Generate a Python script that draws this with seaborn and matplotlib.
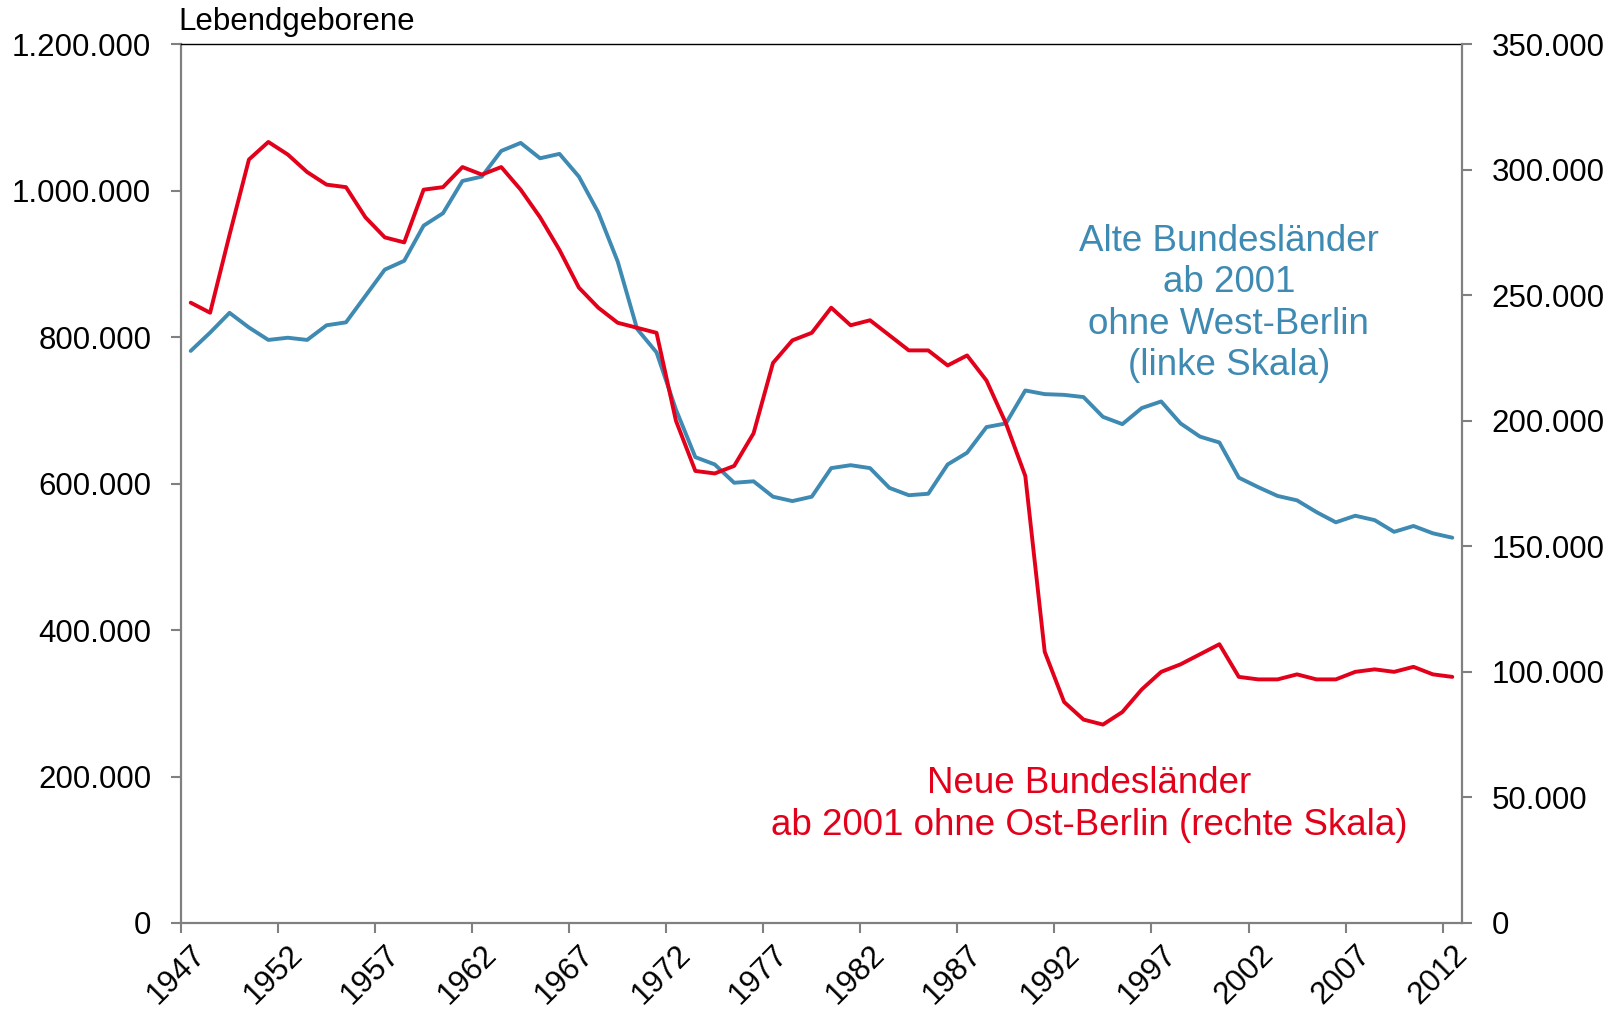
import numpy as np
import pandas as pd
import seaborn as sns
import matplotlib
matplotlib.use('Agg')
import matplotlib.pyplot as plt
from matplotlib.ticker import FuncFormatter

# Lebendgeborene 1947-2012
years = list(range(1947, 2013))

# Alte Bundeslaender (linke Skala)
alte = [781000, 806000, 833000, 813000, 796000,   # 1947-1951
        799000, 796000, 816000, 820000, 856000,   # 1952-1956
        892000, 904000, 952000, 969000, 1013000,  # 1957-1961
        1019000, 1054000, 1065000, 1044000, 1050000,  # 1962-1966
        1019000, 970000, 903000, 811000, 779000,  # 1967-1971
        701000, 636000, 626000, 601000, 603000,   # 1972-1976
        582000, 576000, 582000, 621000, 625000,   # 1977-1981
        621000, 594000, 584000, 586000, 626000,   # 1982-1986
        642000, 677000, 682000, 727000, 722000,   # 1987-1991
        721000, 718000, 691000, 681000, 703000,   # 1992-1996
        712000, 682000, 664000, 656000, 608000,   # 1997-2001
        595000, 583000, 577000, 561000, 547000,   # 2002-2006
        556000, 550000, 534000, 542000, 532000,   # 2007-2011
        526000]                                   # 2012

# Neue Bundeslaender (rechte Skala)
neue = [247000, 243000, 274000, 304000, 311000,   # 1947-1951
        306000, 299000, 294000, 293000, 281000,   # 1952-1956
        273000, 271000, 292000, 293000, 301000,   # 1957-1961
        298000, 301000, 292000, 281000, 268000,   # 1962-1966
        253000, 245000, 239000, 237000, 235000,   # 1967-1971
        200000, 180000, 179000, 182000, 195000,   # 1972-1976
        223000, 232000, 235000, 245000, 238000,   # 1977-1981
        240000, 234000, 228000, 228000, 222000,   # 1982-1986
        226000, 216000, 199000, 178000, 108000,   # 1987-1991
        88000, 81000, 79000, 84000, 93000,        # 1992-1996
        100000, 103000, 107000, 111000, 98000,    # 1997-2001
        97000, 97000, 99000, 97000, 97000,        # 2002-2006
        100000, 101000, 100000, 102000, 99000,    # 2007-2011
        98000]                                    # 2012

tick_years = [1947, 1952, 1957, 1962, 1967, 1972, 1977,
              1982, 1987, 1992, 1997, 2002, 2007, 2012]
left_ticks = [0, 200000, 400000, 600000, 800000, 1000000, 1200000]
right_ticks = [0, 50000, 100000, 150000, 200000, 250000, 300000, 350000]

blue = '#3E8AB2'
red = '#E3001B'
grey = '#808080'

sns.set_style('white')
plt.rcParams['font.family'] = ['Liberation Sans', 'DejaVu Sans']
plt.rcParams['text.color'] = 'black'

df = pd.DataFrame({'Jahr': years, 'alte': alte, 'neue': neue})

fig = plt.figure(figsize=(16.2, 10.13), dpi=100)
ax = fig.add_axes([181 / 1620, 1 - 923 / 1013, 1281 / 1620, 879 / 1013])
ax2 = ax.twinx()

sns.lineplot(data=df, x='Jahr', y='alte', ax=ax, color=blue, lw=2.8)
sns.lineplot(data=df, x='Jahr', y='neue', ax=ax2, color=red, lw=2.8)

# german number format 1.200.000
de_fmt = FuncFormatter(lambda v, p: f'{int(round(v)):,}'.replace(',', '.'))

ax.set_xlim(1946.5, 2012.5)
ax.set_ylim(0, 1200000)
ax2.set_ylim(0, 350000)
ax.set_yticks(left_ticks)
ax2.set_yticks(right_ticks)
ax.yaxis.set_major_formatter(de_fmt)
ax2.yaxis.set_major_formatter(de_fmt)
for a in (ax, ax2):
    a.set_xlabel('')
    a.set_ylabel('')
    a.grid(False)

# category labels at the points, tick marks between categories
ax.set_xticks(tick_years)
ax.set_xticks([y - 0.5 for y in tick_years], minor=True)
ax.set_xticklabels([str(y) for y in tick_years])
ax.tick_params(axis='x', which='major', length=0, pad=12, labelsize=22.5, labelcolor='black')
ax.tick_params(axis='x', which='minor', bottom=True, length=7.5, width=1.5, color=grey)
for lab in ax.get_xticklabels():
    lab.set_rotation(45)
    lab.set_ha('right')
    lab.set_va('top')
    lab.set_rotation_mode('anchor')

ax.tick_params(axis='y', left=True, length=7.5, width=1.5, color=grey, pad=14,
               labelsize=22.5, labelcolor='black')
ax2.tick_params(axis='y', right=True, length=7.5, width=1.5, color=grey, pad=14,
                labelsize=22.5, labelcolor='black')

for s in ('left', 'bottom'):
    ax.spines[s].set_color(grey)
    ax.spines[s].set_linewidth(1.6)
ax.spines['top'].set_color('black')
ax.spines['top'].set_linewidth(1.0)
ax.spines['right'].set_visible(False)
for s in ('left', 'bottom', 'top'):
    ax2.spines[s].set_visible(False)
ax2.spines['right'].set_color(grey)
ax2.spines['right'].set_linewidth(1.6)

fig.text(178 / 1620, 1 - 30 / 1013, 'Lebendgeborene', fontsize=22.5,
         ha='left', va='baseline', color='black')

ax.text(0.818, 0.705, 'Alte Bundesländer\nab 2001\nohne West-Berlin\n(linke Skala)',
        transform=ax.transAxes, color=blue, fontsize=26.5, ha='center', va='center',
        linespacing=1.24)
ax.text(0.709, 0.135, 'Neue Bundesländer\nab 2001 ohne Ost-Berlin (rechte Skala)',
        transform=ax.transAxes, color=red, fontsize=26.5, ha='center', va='center',
        linespacing=1.24)

fig.savefig('out.png', dpi=100)
